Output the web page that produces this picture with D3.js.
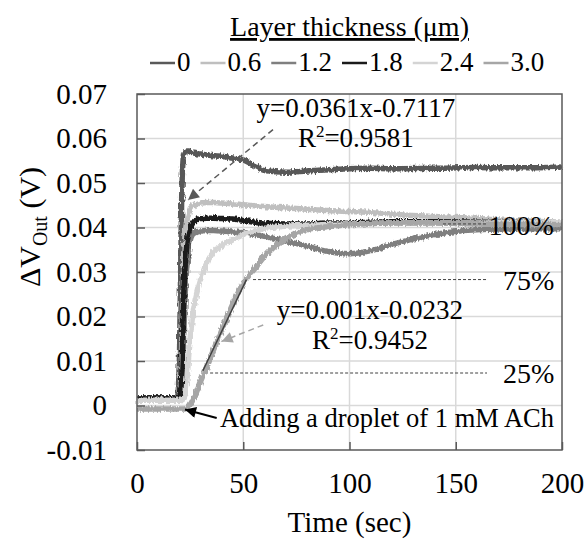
<!DOCTYPE html>
<html>
<head>
<meta charset="utf-8">
<script src="https://cdn.jsdelivr.net/npm/d3@7"></script>
<style>
  body { margin: 0; background: #fff; }
  svg { font-family: "Liberation Serif", "Times New Roman", serif; }
</style>
</head>
<body>
<svg id="drawing_region"></svg>
<script>
// layer thickness (um) of each trace, in legend order
const thickness = ["0", "0.6", "1.2", "1.8", "2.4", "3.0"];

// sampling times (sec)
const time = [0, 10, 19, 20, 21, 22, 23, 24, 25, 26, 28, 30, 33, 36, 40, 45, 50, 55, 60, 70, 80, 90, 100, 110, 120, 140, 160, 180, 200];

// delta V out (V) for each thickness
const dv_0   = [.0017, .0017, .0017, .011, .046, .0565, .0572, .0572, .057, .0568, .0566, .0565, .0563, .0561, .056, .0556, .0552, .054, .0528, .0524, .0527, .053, .0532, .0533, .0532, .0533, .0535, .0534, .0536];
const dv_0_6 = [.0017, .0017, .0017, .0018, .012, .033, .04, .0425, .044, .0448, .0452, .0455, .0456, .0456, .0455, .0453, .0451, .0449, .0447, .0444, .0441, .0438, .0436, .0434, .043, .0425, .042, .0415, .0412];
const dv_1_2 = [.0017, .0017, .0017, .0018, .004, .016, .028, .034, .037, .0383, .039, .0392, .0393, .0393, .0392, .039, .0388, .0385, .038, .037, .0358, .0346, .0341, .0348, .0362, .0384, .0395, .0397, .0397];
const dv_1_8 = [.0017, .0017, .0017, .0017, .006, .025, .034, .038, .0398, .0408, .0418, .042, .0421, .0421, .042, .0419, .0416, .0412, .041, .0408, .0408, .041, .041, .0412, .0413, .0413, .0412, .0411, .041];
const dv_2_4 = [.0012, .0012, .0012, .0012, .0013, .0015, .003, .009, .015, .0195, .025, .0285, .0322, .0345, .036, .0372, .0384, .0392, .0398, .0403, .0405, .0407, .0408, .0409, .041, .041, .041, .0411, .0411];
const dv_3_0 = [-.0008, -.0008, -.0008, -.0008, -.0008, -.0008, -.0007, -.0004, .0002, .001, .003, .0055, .009, .0125, .017, .0227, .0275, .0305, .0335, .0375, .0395, .0402, .0406, .0409, .041, .041, .0408, .0407, .0407];

const xTicks = [0, 50, 100, 150, 200];
const yTicks = [-0.01, 0, 0.01, 0.02, 0.03, 0.04, 0.05, 0.06, 0.07];

// response levels marked with dashed lines
const levelNames  = ["100%", "75%", "25%"];
const levelValues = [0.0408, 0.0283, 0.0073];

// linear fits written on the chart
const fitEquations = ["y=0.0361x-0.7117", "y=0.001x-0.0232"];
const fitR2        = ["0.9581", "0.9452"];
const fitSlope = 0.001, fitIntercept = -0.0232;

class LineChart {
  constructor(config) {
    this.config = config;
    this.series = thickness.map((k, i) => ({
      key: k,
      values: [dv_0, dv_0_6, dv_1_2, dv_1_8, dv_2_4, dv_3_0][i],
      color: config.colors[i]
    }));
    this.init();
  }
  init() {
    const c = this.config;
    this.svg = d3.select(c.parent)
      .attr('width', c.width)
      .attr('height', c.height);
    this.left = c.margin.left;
    this.right = c.width - c.margin.right;
    this.top = c.margin.top;
    this.bottom = c.height - c.margin.bottom;

    this.xscale = d3.scaleLinear().domain([0, 200]).range([this.left, this.right]);
    this.yscale = d3.scaleLinear().domain([-0.01, 0.07]).range([this.bottom, this.top]);

    this.line = d3.line()
      .x((d, i) => this.xscale(time[i]))
      .y(d => this.yscale(d))
      .curve(d3.curveMonotoneX);

    const defs = this.svg.append('defs');
    [['head-dark', '#595959'], ['head-light', '#a6a6a6'], ['head-black', '#000']].forEach(([id, col]) => {
      defs.append('marker')
        .attr('id', id)
        .attr('viewBox', '0 0 10 10')
        .attr('refX', 10).attr('refY', 5)
        .attr('markerUnits', 'userSpaceOnUse')
        .attr('markerWidth', 15).attr('markerHeight', 11)
        .attr('orient', 'auto')
        .append('path')
        .attr('d', 'M0,0 L10,5 L0,10 z')
        .attr('fill', col);
    });
    // ragged look of the recorded traces (rendering effect only)
    const f = defs.append('filter').attr('id', 'rough')
      .attr('x', '-5%').attr('y', '-20%').attr('width', '110%').attr('height', '140%');
    f.append('feTurbulence')
      .attr('type', 'fractalNoise')
      .attr('baseFrequency', '0.6 0.15')
      .attr('numOctaves', 2)
      .attr('seed', 3)
      .attr('result', 'n');
    f.append('feDisplacementMap')
      .attr('in', 'SourceGraphic').attr('in2', 'n')
      .attr('scale', 5)
      .attr('xChannelSelector', 'R').attr('yChannelSelector', 'G');
  }
  render() {
    const x = this.xscale, y = this.yscale;

    // gridlines
    this.svg.append('g')
      .selectAll('line')
      .data(xTicks.slice(1, -1))
      .join('line')
      .attr('x1', d => x(d)).attr('x2', d => x(d))
      .attr('y1', this.top).attr('y2', this.bottom)
      .attr('stroke', '#d9d9d9').attr('stroke-width', 1.5);
    this.svg.append('g')
      .selectAll('line')
      .data(yTicks.slice(1, -1))
      .join('line')
      .attr('x1', this.left).attr('x2', this.right)
      .attr('y1', d => y(d)).attr('y2', d => y(d))
      .attr('stroke', '#d9d9d9').attr('stroke-width', 1.5);

    // traces
    this.svg.append('g')
      .attr('filter', 'url(#rough)')
      .selectAll('path')
      .data(this.series)
      .join('path')
      .attr('d', d => this.line(d.values))
      .attr('fill', 'none')
      .attr('stroke', d => d.color)
      .attr('stroke-width', 5.5)
      .attr('stroke-linejoin', 'round');

    // frame
    this.svg.append('rect')
      .attr('x', this.left).attr('y', this.top)
      .attr('width', this.right - this.left)
      .attr('height', this.bottom - this.top)
      .attr('fill', 'none')
      .attr('stroke', '#595959')
      .attr('stroke-width', 1.5);

    // axes, ticks pointing inward
    const xaxis = d3.axisBottom(x)
      .tickValues(xTicks)
      .tickSizeInner(-8).tickSizeOuter(0)
      .tickPadding(22);
    const yaxis = d3.axisLeft(y)
      .tickValues(yTicks)
      .tickFormat(d => d === 0 ? "0" : d.toFixed(2))
      .tickSizeInner(-8).tickSizeOuter(0)
      .tickPadding(30);

    const xg = this.svg.append('g')
      .attr('transform', `translate(0, ${this.bottom})`)
      .call(xaxis);
    const yg = this.svg.append('g')
      .attr('transform', `translate(${this.left}, 0)`)
      .call(yaxis);
    [xg, yg].forEach(g => {
      g.select('.domain').remove();
      g.selectAll('line').attr('stroke', '#595959').attr('stroke-width', 1.5);
      g.selectAll('text')
        .attr('font-family', 'Liberation Serif')
        .attr('font-size', 29)
        .attr('fill', '#000');
    });

    // response levels
    const levelStart = [144, 54.6, 34.4];
    levelValues.forEach((v, i) => {
      this.svg.append('line')
        .attr('x1', x(levelStart[i])).attr('x2', x(164.7))
        .attr('y1', y(v)).attr('y2', y(v))
        .attr('stroke', '#404040').attr('stroke-width', 1)
        .attr('stroke-dasharray', '3,2');
    });
    const levelText = [[165.4, 0.0384], [172.2, 0.026], [172.2, 0.0051]];
    levelNames.forEach((n, i) => {
      this.svg.append('text')
        .attr('x', x(levelText[i][0])).attr('y', y(levelText[i][1]))
        .attr('font-size', 28)
        .text(n);
    });

    // fit line over the slow trace
    this.svg.append('line')
      .attr('x1', x(31)).attr('y1', y(fitSlope * 31 + fitIntercept))
      .attr('x2', x(51.5)).attr('y2', y(fitSlope * 51.5 + fitIntercept))
      .attr('stroke', '#404040').attr('stroke-width', 1.5);

    // fit labels (two lines each)
    const fitPos = [[103, 0.0649, 0.0582], [109.6, 0.0195, 0.0128]];
    fitEquations.forEach((eq, i) => {
      const [t, v1, v2] = fitPos[i];
      this.svg.append('text')
        .attr('x', x(t)).attr('y', y(v1))
        .attr('text-anchor', 'middle')
        .attr('font-size', 27)
        .text(eq);
      const r = this.svg.append('text')
        .attr('x', x(t)).attr('y', y(v2))
        .attr('text-anchor', 'middle')
        .attr('font-size', 27);
      r.append('tspan').text('R');
      r.append('tspan').attr('dy', -10).attr('font-size', 17).text('2');
      r.append('tspan').attr('dy', 10).text('=' + fitR2[i]);
    });

    // arrows
    this.svg.append('line')
      .attr('x1', x(64)).attr('y1', y(0.062))
      .attr('x2', x(24)).attr('y2', y(0.0462))
      .attr('stroke', '#595959').attr('stroke-width', 1.5)
      .attr('stroke-dasharray', '6,4')
      .attr('marker-end', 'url(#head-dark)');
    this.svg.append('line')
      .attr('x1', x(59.4)).attr('y1', y(0.0181))
      .attr('x2', x(39.8)).attr('y2', y(0.0144))
      .attr('stroke', '#a6a6a6').attr('stroke-width', 1.5)
      .attr('stroke-dasharray', '6,4')
      .attr('marker-end', 'url(#head-light)');
    this.svg.append('line')
      .attr('x1', x(37.5)).attr('y1', y(-0.0028))
      .attr('x2', x(22.6)).attr('y2', y(-0.0009))
      .attr('stroke', '#000').attr('stroke-width', 2)
      .attr('marker-end', 'url(#head-black)');
    this.svg.append('text')
      .attr('x', x(39)).attr('y', y(-0.00476))
      .attr('font-size', 26.5)
      .text('Adding a droplet of 1 mM ACh');

    // legend
    this.svg.append('text')
      .attr('x', (this.left + this.right) / 2).attr('y', 36)
      .attr('text-anchor', 'middle')
      .attr('font-size', 28)
      .attr('text-decoration', 'underline')
      .text('Layer thickness (\u03BCm)');
    let lx = 150;
    this.series.forEach(s => {
      this.svg.append('line')
        .attr('x1', lx).attr('x2', lx + 25)
        .attr('y1', 63).attr('y2', 63)
        .attr('stroke', s.color).attr('stroke-width', 2.5);
      const t = this.svg.append('text')
        .attr('x', lx + 27).attr('y', 71)
        .attr('font-size', 27)
        .text(s.key);
      lx += 27 + t.node().getComputedTextLength() + 10;
    });

    // axis titles
    this.svg.append('text')
      .attr('x', (this.left + this.right) / 2).attr('y', 532)
      .attr('text-anchor', 'middle')
      .attr('font-size', 29)
      .text('Time (sec)');
    const yt = this.svg.append('text')
      .attr('transform', `translate(40, ${(this.top + this.bottom) / 2 - 45}) rotate(-90)`)
      .attr('text-anchor', 'middle')
      .attr('font-size', 30);
    yt.append('tspan').text('\u0394V');
    yt.append('tspan').attr('dy', 7).attr('font-size', 20).text('Out');
    yt.append('tspan').attr('dy', -7).text(' (V)');
  }
}

const chart = new LineChart({
  parent: '#drawing_region',
  width: 587,
  height: 543,
  margin: { top: 94, right: 25, bottom: 93, left: 137 },
  colors: ['#595959', '#bfbfbf', '#7f7f7f', '#1a1a1a', '#d4d4d4', '#a6a6a6']
});
chart.render();
</script>
</body>
</html>
